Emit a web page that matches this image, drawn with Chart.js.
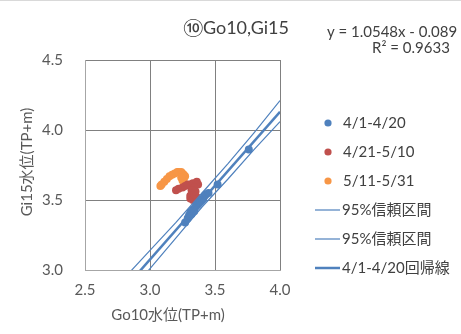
<!DOCTYPE html>
<html>
<head>
<meta charset="utf-8">
<script src="https://cdn.jsdelivr.net/npm/chart.js@4"></script>
<style>body{margin:0;background:#fff}</style>
</head>
<body>
<canvas id="chart" width="461" height="334"></canvas>
<script>
// 4/1-4/20
const aprEarlyX = [3.27, 3.29, 3.30, 3.31, 3.32, 3.33, 3.34, 3.35, 3.36, 3.37, 3.38, 3.39, 3.40, 3.41, 3.42, 3.43, 3.45, 3.52, 3.76];
const aprEarlyY = [3.34, 3.37, 3.39, 3.41, 3.40, 3.43, 3.42, 3.45, 3.46, 3.47, 3.48, 3.49, 3.50, 3.51, 3.53, 3.54, 3.55, 3.61, 3.86];
// 4/21-5/10
const aprLateX = [3.20, 3.22, 3.25, 3.27, 3.29, 3.31, 3.33, 3.36, 3.37, 3.34, 3.32, 3.33, 3.31, 3.31, 3.33, 3.35, 3.36, 3.34, 3.35];
const aprLateY = [3.57, 3.58, 3.59, 3.60, 3.61, 3.61, 3.62, 3.63, 3.61, 3.59, 3.57, 3.55, 3.53, 3.51, 3.50, 3.51, 3.52, 3.54, 3.56];
// 5/11-5/31
const mayX = [3.08, 3.09, 3.11, 3.13, 3.15, 3.17, 3.19, 3.21, 3.22, 3.24, 3.25, 3.26, 3.27, 3.26, 3.25, 3.24];
const mayY = [3.60, 3.61, 3.63, 3.65, 3.67, 3.68, 3.69, 3.70, 3.70, 3.70, 3.69, 3.68, 3.67, 3.65, 3.64, 3.66];
// 95% confidence bands and regression line
const ciX = [2.8, 3.0, 3.2, 3.4, 3.6, 3.8, 4.0];
const ciUpper = [2.94, 3.14, 3.34, 3.55, 3.76, 3.98, 4.21];
const ciLower = [2.79, 3.01, 3.23, 3.45, 3.65, 3.86, 4.06];
const regX = [2.8, 4.0];
const regY = [2.864, 4.130];

const seriesNames = ['4/1-4/20', '4/21-5/10', '5/11-5/31', '95%信頼区間', '95%信頼区間', '4/1-4/20回帰線'];
const titleText = '⑩Go10,Gi15';
const eqText = ['y = 1.0548x - 0.089', 'R² = 0.9633'];

const FONT = 'Lato, "Noto Sans CJK JP", sans-serif';
const BLUE = '#4f81bd', RED = '#c0504d', ORANGE = '#f79646';

function pts(xs, ys) { return xs.map((x, i) => ({x: x, y: ys[i]})); }

function dots(label, xs, ys, color) {
    return { label: label, data: pts(xs, ys), backgroundColor: color, borderColor: color,
        pointRadius: 4, pointBorderWidth: 0, showLine: false, order: 1 };
}
function line(label, xs, ys, width) {
    return { label: label, data: pts(xs, ys), borderColor: BLUE, backgroundColor: BLUE,
        borderWidth: width, pointRadius: 0, showLine: true, order: 0 };
}

const decor = {
    id: 'decor',
    afterDraw(chart) {
        const ctx = chart.ctx;
        ctx.save();
        ctx.strokeStyle = '#d9d9d9';
        ctx.lineWidth = 1;
        ctx.beginPath(); ctx.moveTo(0, 0.5); ctx.lineTo(461, 0.5); ctx.stroke();

        ctx.fillStyle = '#404040';
        ctx.textAlign = 'center';
        ctx.textBaseline = 'middle';
        ctx.font = '18px ' + FONT;
        ctx.fillText(titleText, 236, 28);
        ctx.font = '15px ' + FONT;
        ctx.fillText(eqText[0], 392, 32);
        ctx.fillText(eqText[1], 411, 48);

        // axis titles
        ctx.fillStyle = '#595959';
        ctx.fillText('Go10水位(TP+m)', 168, 315);
        ctx.save();
        ctx.translate(27, 162);
        ctx.rotate(-Math.PI / 2);
        ctx.fillText('Gi15水位(TP+m)', 0, 0);
        ctx.restore();

        // legend
        const rowsY = [123, 152, 181, 210, 239, 268];
        ctx.textAlign = 'left';
        chart.data.datasets.forEach((ds, i) => {
            const y = rowsY[i];
            if (ds.showLine) {
                ctx.strokeStyle = ds.borderColor;
                ctx.lineWidth = ds.borderWidth;
                ctx.beginPath(); ctx.moveTo(315, y); ctx.lineTo(340, y); ctx.stroke();
            } else {
                ctx.fillStyle = ds.backgroundColor;
                ctx.beginPath(); ctx.arc(328, y, 3.6, 0, Math.PI * 2); ctx.fill();
            }
            ctx.fillStyle = '#404040';
            ctx.fillText(ds.label, ds.showLine ? 342 : 343, y);
        });
        ctx.restore();
    }
};

new Chart(document.getElementById('chart'), {
    type: 'scatter',
    data: {
        datasets: [
            dots(seriesNames[0], aprEarlyX, aprEarlyY, BLUE),
            dots(seriesNames[1], aprLateX, aprLateY, RED),
            dots(seriesNames[2], mayX, mayY, ORANGE),
            line(seriesNames[3], ciX, ciUpper, 1.2),
            line(seriesNames[4], ciX, ciLower, 1.2),
            line(seriesNames[5], regX, regY, 2.5)
        ]
    },
    options: {
        responsive: false,
        animation: false,
        layout: { padding: { left: 0, top: 60, right: 181, bottom: 0 } },
        plugins: { legend: { display: false }, tooltip: { enabled: false } },
        scales: {
            x: {
                min: 2.5, max: 4.0,
                afterFit(scale) { scale.height = 64; },
                ticks: { stepSize: 0.5, padding: 11, color: '#595959', font: { family: FONT, size: 15 },
                    callback: v => v.toFixed(1) },
                grid: { color: '#808080', drawTicks: false },
                border: { color: '#a6a6a6' }
            },
            y: {
                min: 3.0, max: 4.5,
                afterFit(scale) { scale.width = 85; },
                ticks: { stepSize: 0.5, padding: 22, color: '#595959', font: { family: FONT, size: 15 },
                    callback: v => v.toFixed(1) },
                grid: { color: '#808080', drawTicks: false },
                border: { color: '#a6a6a6' }
            }
        }
    },
    plugins: [decor]
});
</script>
</body>
</html>
